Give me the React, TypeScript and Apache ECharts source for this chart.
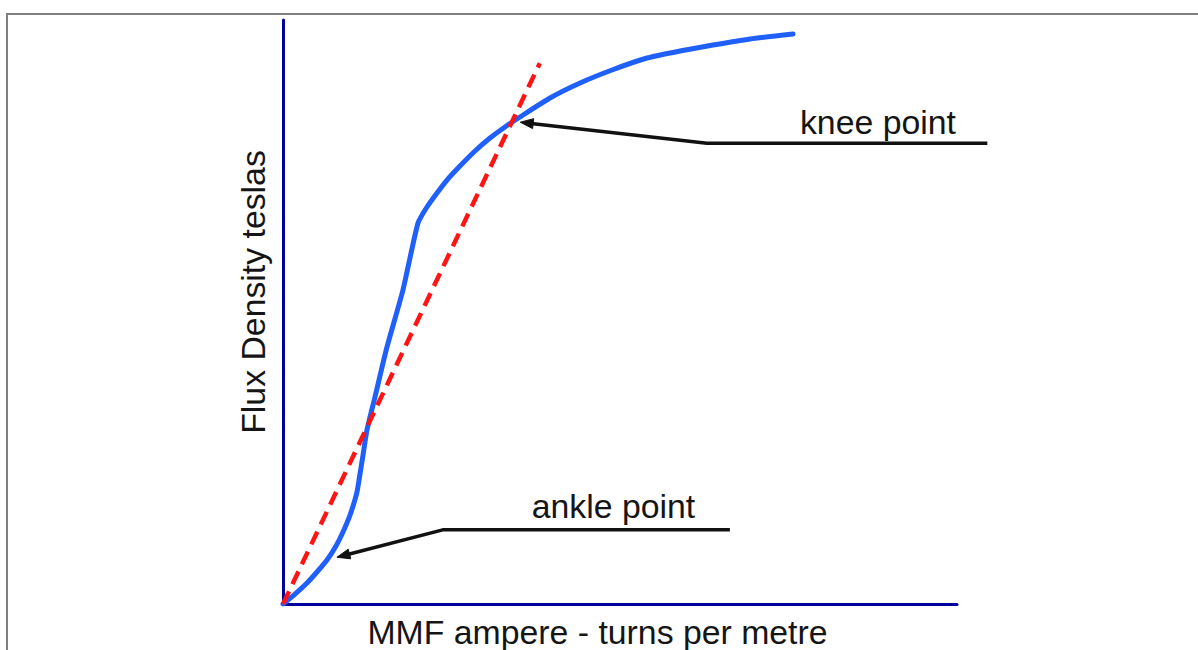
import React, { useEffect, useRef } from "react";
import * as echarts from "echarts";

// B-H magnetisation curve (x: MMF, y: flux density), arbitrary 0-100 units
const mmf = [0, 1.78, 3.56, 5.04, 6.53, 7.86, 8.9, 9.79, 10.53, 10.98, 11.28, 11.87, 12.46, 13.65, 15.43, 17.8, 20.03, 21.36, 22.85, 24.33, 26.26, 28.49, 30.71, 32.94, 35.16, 39.61, 44.07, 48.81, 54.01, 58.9, 63.8, 69.29, 75.67];
const flux = [0, 1.71, 3.6, 5.48, 7.53, 9.93, 12.33, 14.73, 17.29, 19.18, 21.23, 25.51, 29.79, 35.45, 44.01, 53.77, 65.24, 67.98, 70.38, 72.6, 75.0, 77.57, 79.79, 81.68, 83.39, 86.64, 89.21, 91.44, 93.49, 94.69, 95.72, 96.75, 97.6];

// tangent (dashed red)
const tangentX = [0, 38.1];
const tangentY = [0, 92.6];

// annotation arrows (data coordinates, last point is arrow tip)
const kneeArrowX = [104.5, 62.9, 35.2];
const kneeArrowY = [78.9, 78.9, 82.5];
const ankleArrowX = [66.3, 23.7, 8.0];
const ankleArrowY = [12.7, 12.7, 8.0];

// annotation labels
const labelTexts = ["knee point", "ankle point"];
const labelX = [76.7, 36.9];
const labelY = [82.5, 16.8];

const xTitle = "MMF ampere - turns per metre";
const yTitle = "Flux Density teslas";

const FONT = "'Liberation Sans', Arial, Helvetica, sans-serif";
const FS = 33.8;

export default function App() {
  const ref = useRef<HTMLDivElement>(null);

  useEffect(() => {
    if (!ref.current) return;
    const chart = echarts.init(ref.current, undefined, { renderer: "svg" });
    const axisCommon = {
      type: "value" as const,
      min: 0,
      max: 100,
      axisLine: { show: true, lineStyle: { color: "#00009e", width: 3 } },
      axisTick: { show: false },
      axisLabel: { show: false },
      splitLine: { show: false },
      nameLocation: "middle" as const,
    };
    chart.setOption({
      animation: false,
      backgroundColor: "#ffffff",
      grid: {
        left: 283,
        top: 20,
        width: 674,
        height: 584,
        containLabel: false,
        outerBoundsMode: "none",
      },
      xAxis: {
        ...axisCommon,
        name: xTitle,
        nameGap: 11,
        nameTextStyle: { fontFamily: FONT, fontSize: FS, color: "#151515", padding: [0, 45, 0, 0] },
      },
      yAxis: {
        ...axisCommon,
        name: yTitle,
        nameGap: 13,
        nameTextStyle: { fontFamily: FONT, fontSize: FS, color: "#151515", padding: [0, 0, 0, 40] },
      },
      series: [
        {
          type: "line",
          data: mmf.map((x, i) => [x, flux[i]]),
          symbol: "none",
          smooth: 0.2,
          lineStyle: { color: "#1f5ffa", width: 5, join: "round", cap: "round" },
          z: 2,
        },
        {
          type: "line",
          data: tangentX.map((x, i) => [x, tangentY[i]]),
          symbol: "none",
          lineStyle: { color: "#ff1414", width: 4.5, type: [14, 8] },
          z: 3,
        },
      ],
    });

    const px = (x: number, y: number) => chart.convertToPixel({ gridIndex: 0 }, [x, y]) as number[];

    const arrow = (xs: number[], ys: number[]) => {
      const pts = xs.map((x, i) => px(x, ys[i]));
      const tip = pts[pts.length - 1];
      const prev = pts[pts.length - 2];
      const dx = tip[0] - prev[0];
      const dy = tip[1] - prev[1];
      const len = Math.hypot(dx, dy);
      const ux = dx / len, uy = dy / len;
      const L = 13, W = 5;
      const bx = tip[0] - ux * L, by = tip[1] - uy * L;
      const shaft = pts.slice(0, -1).concat([[bx + ux * 2, by + uy * 2]]);
      return [
        {
          type: "polyline",
          shape: { points: shaft },
          style: { stroke: "#111", lineWidth: 3.5, fill: null, lineJoin: "round" },
          z: 10,
        },
        {
          type: "polygon",
          shape: {
            points: [
              tip,
              [bx - uy * W, by + ux * W],
              [bx + uy * W, by - ux * W],
            ],
          },
          style: { fill: "#111", stroke: "#111", lineWidth: 1 },
          z: 10,
        },
      ];
    };

    const texts = labelTexts.map((t, i) => {
      const p = px(labelX[i], labelY[i]);
      return {
        type: "text",
        x: p[0],
        y: p[1],
        style: {
          text: t,
          fontFamily: FONT,
          fontSize: FS,
          fill: "#151515",
          textAlign: "left",
          textVerticalAlign: "middle",
        },
        z: 10,
      };
    });

    chart.setOption({
      graphic: [
        {
          type: "rect",
          shape: { x: 7, y: 14, width: 1400, height: 900 },
          style: { fill: null, stroke: "#808080", lineWidth: 2 },
          z: 0,
          silent: true,
        },
        ...arrow(kneeArrowX, kneeArrowY),
        ...arrow(ankleArrowX, ankleArrowY),
        ...texts,
      ],
    });

    return () => chart.dispose();
  }, []);

  return (
    <div
      ref={ref}
      style={{ position: "absolute", left: 0, top: 0, width: 1198, height: 650 }}
    />
  );
}
